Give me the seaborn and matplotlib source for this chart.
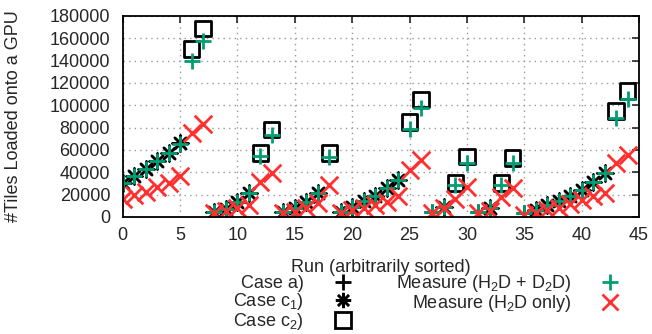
import warnings
import numpy as np
import pandas as pd
import matplotlib
matplotlib.use("Agg")
import matplotlib.pyplot as plt
from matplotlib.lines import Line2D
import seaborn as sns

warnings.filterwarnings("ignore")

# data (run index -> number of tiles)
runs_a = [27, 31, 35]
tiles_a = [4800, 4800, 3300]

runs_c1 = [0, 1, 2, 3, 4, 5, 8, 9, 10, 11, 14, 15, 16, 17, 19, 20, 21, 22, 23, 24,
           28, 32, 36, 37, 38, 39, 40, 41, 42]
tiles_c1 = [30400, 36900, 43000, 50000, 57000, 66500, 4800, 7500, 13800, 21300,
            4800, 7800, 13800, 21300, 4800, 9300, 14400, 19200, 25900, 33300,
            9300, 7800, 6300, 10500, 14500, 19000, 24300, 31000, 39400]

runs_c2 = [6, 7, 12, 13, 18, 25, 26, 29, 30, 33, 34, 43, 44]
tiles_c2 = [150400, 168500, 57400, 78400, 57400, 85000, 105400, 30400, 54300,
            30400, 52900, 94900, 112900]

runs_all = list(range(45))
tiles_h2d_d2h = [30400, 36900, 43000, 50000, 57000, 65500, 140000, 158000,
                 4800, 7500, 13800, 21300, 54300, 73000, 4800, 7800, 13800, 21300,
                 53800, 4800, 9300, 14400, 19200, 25900, 33300, 78400, 97900,
                 4800, 9300, 28800, 48400, 4800, 7800, 28800, 48400, 3800, 6300,
                 10500, 14500, 19000, 24300, 31000, 39400, 88900, 105400]
tiles_h2d_only = [15900, 19800, 22800, 27000, 30400, 36900, 75000, 82900,
                  3900, 5700, 8500, 10800, 30900, 39400, 3300, 4800, 7800, 12300,
                  28800, 3300, 6300, 7800, 10800, 13800, 18800, 42300, 51000,
                  3500, 8000, 16000, 26500, 3300, 5700, 18000, 25900, 2000, 3300,
                  6300, 8500, 12000, 15300, 18800, 21300, 48400, 55900]

GREEN = "#009e73"
RED = "#ff3030"

sns.set_style("white")
plt.rcParams["font.family"] = ["Liberation Sans", "DejaVu Sans"]
plt.rcParams["mathtext.fontset"] = "custom"
plt.rcParams["mathtext.rm"] = "Liberation Sans"
plt.rcParams["mathtext.it"] = "Liberation Sans:italic"
plt.rcParams["font.size"] = 13

fig = plt.figure(figsize=(6.52, 3.34), dpi=100)
ax = fig.add_axes([0.1882, 0.3503, 0.7919, 0.6018])

star = (8, 2, 0)
sns.scatterplot(x=runs_a, y=tiles_a, marker="+", s=120, color="black", linewidth=2, ax=ax)
sns.scatterplot(x=runs_c1, y=tiles_c1, marker=star, s=130, color="black", linewidth=1.8, ax=ax)
sns.scatterplot(x=runs_c2, y=tiles_c2, marker="s", s=120, facecolor="none",
                edgecolor="black", linewidth=2, ax=ax)
sns.scatterplot(x=runs_all, y=tiles_h2d_d2h, marker="+", s=120, color=GREEN, linewidth=2, ax=ax)
sns.scatterplot(x=runs_all, y=tiles_h2d_only, marker="x", s=160, color=RED, linewidth=2, ax=ax)

ax.set_xlim(0, 45)
ax.set_ylim(0, 180000)
ax.set_xticks(np.arange(0, 46, 5))
ax.set_yticks(np.arange(0, 180001, 20000))
ax.grid(True, linestyle=(0, (1, 3)), color="#999999", linewidth=1)
ax.tick_params(direction="in", length=5, width=1.2, top=True, right=True,
               labelsize=13, pad=7)
ax.tick_params(axis="y", pad=9)
for sp in ax.spines.values():
    sp.set_linewidth(1.3)
    sp.set_color("black")

ax.set_xlabel("Run (arbitrarily sorted)", fontsize=13)
ax.set_ylabel("#Tiles Loaded onto a GPU", fontsize=13)
ax.xaxis.set_label_coords(0.5, -0.21)
ax.yaxis.set_label_coords(-0.195, 0.5)

handles = [
    Line2D([], [], marker="+", color="black", linestyle="none", markersize=11, markeredgewidth=2),
    Line2D([], [], marker=star, color="black", linestyle="none", markersize=11, markeredgewidth=1.8),
    Line2D([], [], marker="s", color="black", markerfacecolor="none", linestyle="none",
           markersize=11, markeredgewidth=2),
    Line2D([], [], marker="+", color=GREEN, linestyle="none", markersize=11, markeredgewidth=2),
    Line2D([], [], marker="x", color=RED, linestyle="none", markersize=12, markeredgewidth=2),
]
labels = ["Case a)", "Case c$_1$)", "Case c$_2$)",
          "Measure (H$_2$D + D$_2$D)", "Measure (H$_2$D only)"]
fig.legend(handles, labels, ncol=2, markerfirst=False, frameon=False,
           loc="upper right", bbox_to_anchor=(624 / 652, 1 - 273 / 334),
           fontsize=13, handlelength=1.5, handletextpad=1.4, columnspacing=2.2,
           labelspacing=-0.05, borderpad=0, borderaxespad=0)

fig.savefig("out.png", dpi=100)
